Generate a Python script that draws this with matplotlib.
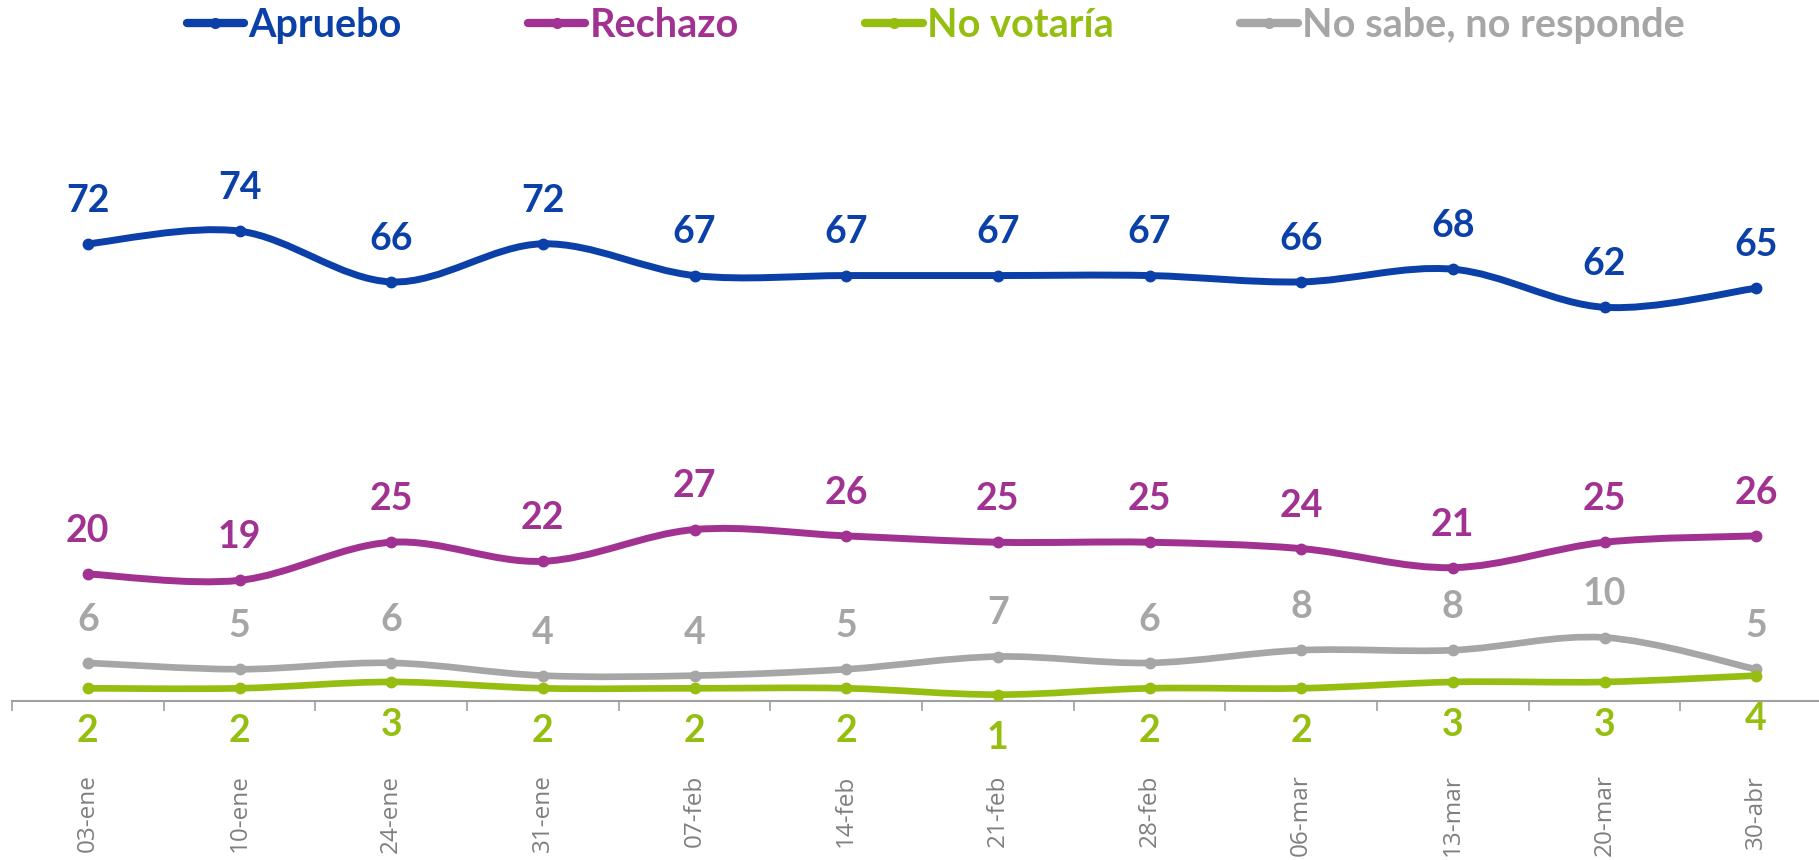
import numpy as np
import matplotlib
matplotlib.use("Agg")
import matplotlib.pyplot as plt
from matplotlib.path import Path
from matplotlib.patches import PathPatch
from matplotlib.lines import Line2D

### Data ###
fechas = ["03-ene", "10-ene", "24-ene", "31-ene", "07-feb", "14-feb",
          "21-feb", "28-feb", "06-mar", "13-mar", "20-mar", "30-abr"]
apruebo = [72, 74, 66, 72, 67, 67, 67, 67, 66, 68, 62, 65]
rechazo = [20, 19, 25, 22, 27, 26, 25, 25, 24, 21, 25, 26]
no_votaria = [2, 2, 3, 2, 2, 2, 1, 2, 2, 3, 3, 4]
ns_nr = [6, 5, 6, 4, 4, 5, 7, 6, 8, 8, 10, 5]

series = [
    ("Apruebo", apruebo, "#0A40A8", 1),
    ("Rechazo", rechazo, "#A23291", 1),
    ("No votaría", no_votaria, "#95BE10", -1),
    ("No sabe, no responde", ns_nr, "#A6A6A6", 1),
]

plt.rcParams['font.family'] = ['Lato', 'DejaVu Sans']


def smooth_path(x, y):
    """Excel-like smoothed line: cubic bezier segments through the points"""
    pts = np.column_stack([x, y]).astype(float)
    verts = [pts[0]]
    codes = [Path.MOVETO]
    for i in range(len(pts) - 1):
        p0 = pts[i - 1] if i > 0 else pts[i]
        p1, p2 = pts[i], pts[i + 1]
        p3 = pts[i + 2] if i + 2 < len(pts) else pts[i + 1]
        verts += [p1 + (p2 - p0) / 6, p2 - (p3 - p1) / 6, p2]
        codes += [Path.CURVE4] * 3
    return Path(verts, codes)


fig = plt.figure(figsize=(18.19, 8.6), dpi=100)
ax = fig.add_axes([12 / 1819, 159 / 860, 1820 / 1819, 635 / 860])
x = np.arange(len(fechas))

handles = []
# draw gray first so it sits below the green like the reference
for name, vals, col, side in [series[3], series[2], series[1], series[0]]:
    lw = 5 if name in ("Apruebo", "Rechazo") else 4.8
    ax.add_patch(PathPatch(smooth_path(x, vals), fill=False, edgecolor=col,
                           lw=lw, capstyle="round", zorder=3))
    ax.plot(x, vals, "o", color=col, markersize=7.5, zorder=4)
    for xi, v in zip(x, vals):
        ax.annotate(str(v), (xi, v), xytext=(0, 31 * side),
                    textcoords="offset points", ha="center", va="center",
                    fontsize=27, fontweight="bold", color=col,
                    annotation_clip=False)

for name, vals, col, side in series:
    handles.append(Line2D([], [], color=col, lw=6, marker="o",
                          markersize=7, label=name, solid_capstyle="round"))

ax.set_xlim(-0.5, len(fechas) - 0.5)
ax.set_ylim(0, 100)
for s in ["top", "right", "left"]:
    ax.spines[s].set_visible(False)
ax.spines["bottom"].set_color("#A0A0A0")
ax.spines["bottom"].set_linewidth(1.5)
ax.set_yticks([])

ax.set_xticks(np.arange(-0.5, len(fechas), 1))
ax.set_xticklabels([])
ax.tick_params(axis="x", which="major", length=7, width=1.2, color="#A0A0A0")
ax.set_xticks(x, minor=True)
ax.set_xticklabels(fechas, minor=True, rotation=90, va="top",
                   fontsize=17.5, color="#7F7F7F", family="Open Sans")
ax.tick_params(axis="x", which="minor", length=0, pad=53)

fig.legend(handles=handles, loc="upper center", bbox_to_anchor=(0.5143, 1.033),
           ncol=4, frameon=False, prop={"size": 28.5, "weight": "bold"},
           labelcolor="linecolor", handlelength=1.45, handletextpad=0.1,
           columnspacing=3.2)

fig.savefig("out.png", dpi=100)
